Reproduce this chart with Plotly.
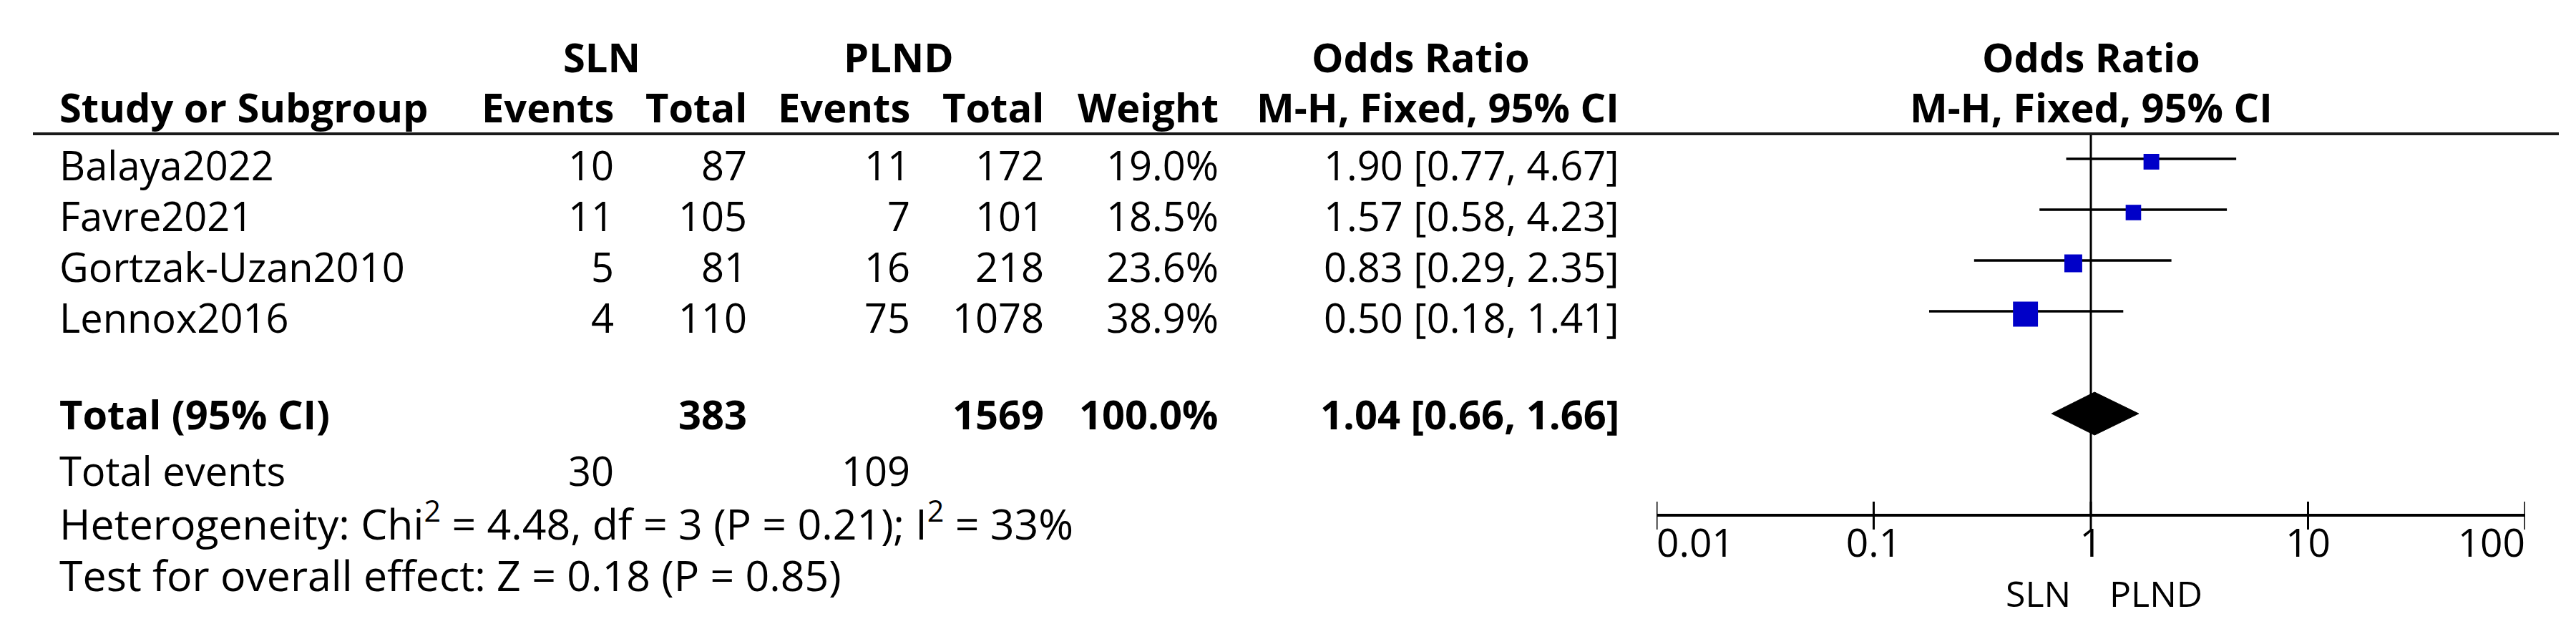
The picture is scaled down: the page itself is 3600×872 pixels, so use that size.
import numpy as np
import plotly.graph_objects as go

# ---------------- data ----------------
studies = ["Balaya2022", "Favre2021", "Gortzak-Uzan2010", "Lennox2016"]
sln_events = [10, 11, 5, 4]
sln_total = [87, 105, 81, 110]
plnd_events = [11, 7, 16, 75]
plnd_total = [172, 101, 218, 1078]
weights = [19.0, 18.5, 23.6, 38.9]
odds_ratio = [1.90, 1.57, 0.83, 0.50]
ci_low = [0.77, 0.58, 0.29, 0.18]
ci_high = [4.67, 4.23, 2.35, 1.41]

total_sln = 383
total_plnd = 1569
total_weight = 100.0
total_or = 1.04
total_low = 0.66
total_high = 1.66
events_sln = 30
events_plnd = 109

heterogeneity = "Heterogeneity: Chi<sup>2</sup> = 4.48, df = 3 (P = 0.21); I<sup>2</sup> = 33%"
overall_effect = "Test for overall effect: Z = 0.18 (P = 0.85)"

tick_vals = [0.01, 0.1, 1, 10, 100]
tick_text = ["0.01", "0.1", "1", "10", "100"]
favours = ["SLN", "PLND"]
null_value = 1

# ---------------- layout constants (pixels) ----------------
W, H = 3600, 872
FONT = "Open Sans"
FS = 56
ROW0 = 214          # first study mark line
STEP = 71           # row spacing
TEXT_OFF = 8        # text sits a bit lower than marks
SQ_OFF = 4          # squares sit a bit lower than CI lines
TOTAL_Y = 570
HEAD1_Y = 71
HEAD2_Y = 141
HLINE_Y = 179
AXIS_Y = 712
EVENTS_Y = 649
HET_Y = 720
TEST_Y = 795
TICKLAB_Y = 756
FAV_Y = 821

X_NAME = 73
X_SLN_EV = 852
X_SLN_TOT = 1038
X_PLND_EV = 1266
X_PLND_TOT = 1453
X_WEIGHT = 1697
X_CI = 2257

BLUE = "#0000C8"

row_y = [ROW0 + STEP * i for i in range(len(studies))]
text_y = [y + TEXT_OFF for y in row_y]

fig = go.Figure()
ann = []


def txt(text, xpx, ypx, anchor, bold=False, size=FS):
    ann.append(dict(text=text, x=xpx / W, xref="paper", y=ypx, yref="y",
                    xanchor=anchor, yanchor="middle", showarrow=False,
                    font=dict(family=FONT, size=size, color="black",
                              weight="bold" if bold else "normal")))


# headers
txt("SLN", 833, HEAD1_Y, "center", True)
txt("PLND", 1248, HEAD1_Y, "center", True)
txt("Odds Ratio", 1978, HEAD1_Y, "center", True)
txt("Study or Subgroup", X_NAME, HEAD2_Y, "left", True)
txt("Events", X_SLN_EV, HEAD2_Y, "right", True)
txt("Total", X_SLN_TOT, HEAD2_Y, "right", True)
txt("Events", X_PLND_EV, HEAD2_Y, "right", True)
txt("Total", X_PLND_TOT, HEAD2_Y, "right", True)
txt("Weight", X_WEIGHT, HEAD2_Y, "right", True)
txt("M-H, Fixed, 95% CI", X_CI, HEAD2_Y, "right", True)

# study rows
for i, s in enumerate(studies):
    y = text_y[i]
    txt(s, X_NAME, y, "left")
    txt(str(sln_events[i]), X_SLN_EV, y, "right")
    txt(str(sln_total[i]), X_SLN_TOT, y, "right")
    txt(str(plnd_events[i]), X_PLND_EV, y, "right")
    txt(str(plnd_total[i]), X_PLND_TOT, y, "right")
    txt(f"{weights[i]:.1f}%", X_WEIGHT, y, "right")
    txt(f"{odds_ratio[i]:.2f} [{ci_low[i]:.2f}, {ci_high[i]:.2f}]", X_CI, y, "right")

# total row
txt("Total (95% CI)", X_NAME, TOTAL_Y, "left", True)
txt(str(total_sln), X_SLN_TOT, TOTAL_Y, "right", True)
txt(str(total_plnd), X_PLND_TOT, TOTAL_Y, "right", True)
txt(f"{total_weight:.1f}%", X_WEIGHT, TOTAL_Y, "right", True)
txt(f"{total_or:.2f} [{total_low:.2f}, {total_high:.2f}]", X_CI, TOTAL_Y, "right", True)

txt("Total events", X_NAME, EVENTS_Y, "left")
txt(str(events_sln), X_SLN_EV, EVENTS_Y, "right")
txt(str(events_plnd), X_PLND_EV, EVENTS_Y, "right")
txt(heterogeneity, X_NAME, HET_Y, "left", size=59)
txt(overall_effect, X_NAME, TEST_Y, "left", size=59)

# forest-plot headers (centred on the null line)
for label, yy in (("Odds Ratio", HEAD1_Y), ("M-H, Fixed, 95% CI", HEAD2_Y)):
    ann.append(dict(text=label, x=np.log10(null_value), xref="x", y=yy, yref="y",
                    xanchor="center", yanchor="middle", showarrow=False,
                    font=dict(family=FONT, size=FS, color="black", weight="bold")))

# favours labels
ann.append(dict(text=favours[0], x=np.log10(null_value), xref="x", y=FAV_Y, yref="y",
                xanchor="right", yanchor="middle", xshift=-26, showarrow=False,
                font=dict(family=FONT, size=50, color="black")))
ann.append(dict(text=favours[1], x=np.log10(null_value), xref="x", y=FAV_Y, yref="y",
                xanchor="left", yanchor="middle", xshift=24, showarrow=False,
                font=dict(family=FONT, size=50, color="black")))

# null line
fig.add_trace(go.Scatter(x=[null_value, null_value], y=[HLINE_Y, AXIS_Y], mode="lines",
                         line=dict(color="black", width=3), hoverinfo="skip"))

# CI lines
cx, cy = [], []
for lo, hi, y in zip(ci_low, ci_high, row_y):
    cx += [lo, hi, None]
    cy += [y, y, None]
fig.add_trace(go.Scatter(x=cx, y=cy, mode="lines", line=dict(color="black", width=3.5),
                         hoverinfo="skip"))

# squares (size grows with weight)
sizes = [9.6 + 0.65 * w for w in weights]
fig.add_trace(go.Scatter(x=odds_ratio, y=[y + SQ_OFF for y in row_y], mode="markers",
                         marker=dict(symbol="square", size=sizes, color=BLUE, opacity=1,
                                     line=dict(width=0))))

# summary diamond
half = 30
fig.add_trace(go.Scatter(x=[total_low, total_or, total_high, total_or, total_low],
                         y=[TOTAL_Y, TOTAL_Y - half, TOTAL_Y, TOTAL_Y + half, TOTAL_Y],
                         mode="lines", fill="toself", fillcolor="black",
                         line=dict(color="black", width=1)))

# axis line + ticks
fig.add_trace(go.Scatter(x=[tick_vals[0], tick_vals[-1]], y=[AXIS_Y, AXIS_Y], mode="lines",
                         line=dict(color="black", width=4), hoverinfo="skip"))
tx, ty = [], []
for t in tick_vals:
    tx += [t, t, None]
    ty += [AXIS_Y - 19, AXIS_Y + 20, None]
fig.add_trace(go.Scatter(x=tx, y=ty, mode="lines", line=dict(color="black", width=3),
                         hoverinfo="skip"))
positions = ["middle right"] + ["middle center"] * (len(tick_vals) - 2) + ["middle left"]
fig.add_trace(go.Scatter(x=tick_vals, y=[TICKLAB_Y] * len(tick_vals), mode="text",
                         text=tick_text, textposition=positions,
                         textfont=dict(family=FONT, size=55, color="black")))

# header rule spanning the whole table
shapes = [dict(type="line", xref="paper", yref="y", x0=38 / W, x1=3568 / W,
               y0=HLINE_Y, y1=HLINE_Y, line=dict(color="#1a1a1a", width=4))]

fig.update_layout(
    width=W, height=H, autosize=False,
    margin=dict(l=0, r=0, t=0, b=0, pad=0),
    paper_bgcolor="white", plot_bgcolor="white",
    showlegend=False,
    annotations=ann, shapes=shapes,
    xaxis=dict(type="log", range=[np.log10(tick_vals[0]), np.log10(tick_vals[-1])],
               domain=[2307 / W, 3521 / W], visible=False, fixedrange=True),
    yaxis=dict(range=[H, 0], domain=[0, 1], visible=False, fixedrange=True),
    font=dict(family=FONT, color="black"),
)

fig.write_html("out.html")
